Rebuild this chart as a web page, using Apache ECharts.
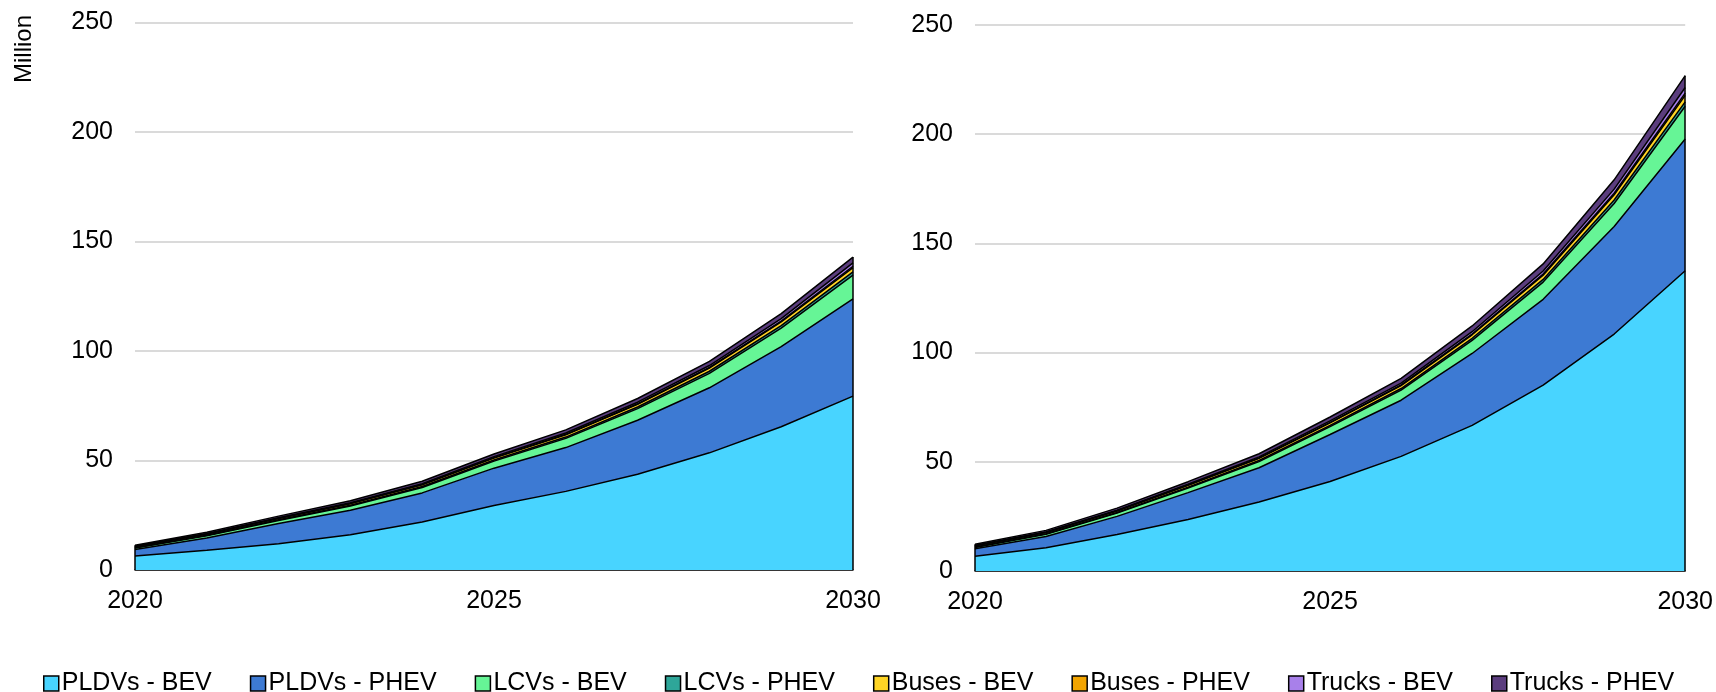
<!DOCTYPE html>
<html>
<head>
<meta charset="utf-8">
<script src="https://cdn.jsdelivr.net/npm/echarts@6/dist/echarts.min.js"></script>
<style>
  html, body { margin: 0; padding: 0; background: #fff; }
  #chart { width: 1716px; height: 692px; }
</style>
</head>
<body>
<div id="chart"></div>
<script>
// Electric vehicle stock by segment and powertrain, millions, 2020-2030
const years = ['2020', '2021', '2022', '2023', '2024', '2025', '2026', '2027', '2028', '2029', '2030'];
const seriesNames = ['PLDVs - BEV', 'PLDVs - PHEV', 'LCVs - BEV', 'LCVs - PHEV',
                     'Buses - BEV', 'Buses - PHEV', 'Trucks - BEV', 'Trucks - PHEV'];
const yTicks = [0, 50, 100, 150, 200, 250];

// Left panel
const leftPldvBev    = [6.4, 9.0, 12.0, 16.1, 21.9, 29.5, 35.9, 43.7, 53.5, 65.4, 79.4];
const leftPldvPhev   = [3.0, 5.6, 9.2, 11.2, 13.3, 17.0, 20.0, 24.7, 29.7, 36.6, 44.4];
const leftLcvBev     = [0.6, 1.0, 1.4, 1.9, 2.5, 3.2, 4.2, 5.3, 6.6, 8.4, 10.8];
const leftLcvPhev    = [0.2, 0.25, 0.3, 0.35, 0.4, 0.5, 0.6, 0.75, 0.95, 1.2, 1.5];
const leftBusBev     = [0.5, 0.55, 0.65, 0.75, 0.85, 0.95, 1.05, 1.2, 1.4, 1.65, 2.0];
const leftBusPhev    = [0.05, 0.06, 0.08, 0.1, 0.13, 0.16, 0.2, 0.25, 0.32, 0.42, 0.6];
const leftTruckBev   = [0.1, 0.14, 0.2, 0.27, 0.35, 0.45, 0.58, 0.72, 0.9, 1.15, 1.5];
const leftTruckPhev  = [0.45, 0.6, 0.77, 0.93, 1.07, 1.24, 1.47, 1.68, 1.93, 2.28, 2.7];

// Right panel
const rightPldvBev   = [6.8, 10.6, 16.7, 23.6, 31.6, 41.0, 52.5, 66.7, 85.1, 108.5, 137.5];
const rightPldvPhev  = [3.4, 5.2, 8.3, 12.3, 15.7, 21.5, 25.7, 32.9, 39.3, 49.2, 60.3];
const rightLcvBev    = [0.6, 1.0, 1.5, 2.1, 2.8, 3.6, 4.6, 6.0, 7.9, 10.6, 15.0];
const rightLcvPhev   = [0.2, 0.25, 0.3, 0.4, 0.5, 0.6, 0.75, 0.95, 1.2, 1.55, 2.0];
const rightBusBev    = [0.5, 0.6, 0.7, 0.85, 1.0, 1.15, 1.35, 1.6, 1.95, 2.4, 3.0];
const rightBusPhev   = [0.05, 0.07, 0.1, 0.13, 0.17, 0.22, 0.28, 0.37, 0.5, 0.7, 1.0];
const rightTruckBev  = [0.1, 0.15, 0.25, 0.35, 0.5, 0.65, 0.85, 1.05, 1.4, 1.9, 2.6];
const rightTruckPhev = [0.55, 0.73, 0.95, 1.17, 1.43, 1.78, 2.17, 2.63, 3.25, 4.25, 5.4];

const palette = ['#48D4FF', '#3D7AD3', '#66F596', '#2EA699', '#FFD525', '#F2A400', '#A880EA', '#5B3D7E'];

const leftSets  = [leftPldvBev, leftPldvPhev, leftLcvBev, leftLcvPhev, leftBusBev, leftBusPhev, leftTruckBev, leftTruckPhev];
const rightSets = [rightPldvBev, rightPldvPhev, rightLcvBev, rightLcvPhev, rightBusBev, rightBusPhev, rightTruckBev, rightTruckPhev];

const FONT = 'Liberation Sans, Arial, sans-serif';

function stackTotal(sets, i) {
  return sets.reduce((s, arr) => s + arr[i], 0);
}

function panelSeries(sets, axisIndex, stackId) {
  const last = years.length - 1;
  return sets.map((vals, k) => {
    const s = {
      name: seriesNames[k],
      type: 'line',
      xAxisIndex: axisIndex,
      yAxisIndex: axisIndex,
      stack: stackId,
      data: vals,
      symbol: 'none',
      showSymbol: false,
      color: palette[k],
      lineStyle: { color: '#000', width: 1.5 },
      areaStyle: { color: palette[k], opacity: 1 },
      emphasis: { disabled: true },
      silent: true
    };
    if (k === sets.length - 1) {
      // outline the two vertical edges of the stacked block
      s.markLine = {
        silent: true,
        symbol: 'none',
        label: { show: false },
        lineStyle: { color: '#000', width: 1.5, type: 'solid' },
        data: [
          [{ coord: [years[0], 0] }, { coord: [years[0], stackTotal(sets, 0)] }],
          [{ coord: [years[last], 0] }, { coord: [years[last], stackTotal(sets, last)] }]
        ]
      };
    }
    return s;
  });
}

function xAxisFor(gridIndex) {
  return {
    type: 'category',
    gridIndex: gridIndex,
    data: years,
    boundaryGap: false,
    axisTick: { show: false },
    axisLine: { show: true, lineStyle: { color: '#000', width: 1.5 } },
    axisLabel: { interval: 4, color: '#000', fontSize: 25, fontFamily: FONT, margin: 19 },
    splitLine: { show: false }
  };
}

function yAxisFor(gridIndex) {
  return {
    type: 'value',
    gridIndex: gridIndex,
    min: yTicks[0],
    max: yTicks[yTicks.length - 1],
    interval: yTicks[1] - yTicks[0],
    axisLine: { show: false },
    axisTick: { show: false },
    axisLabel: { color: '#000', fontSize: 25, fontFamily: FONT, margin: 22 },
    splitLine: { show: true, lineStyle: { color: '#DADADA', width: 2 } }
  };
}

const chart = echarts.init(document.getElementById('chart'), null, { renderer: 'canvas' });

chart.setOption({
  animation: false,
  backgroundColor: '#fff',
  grid: [
    { left: 135, right: 863, top: 22.5, bottom: 122 },
    { left: 975, right: 28, top: 25, bottom: 121 }
  ],
  xAxis: [xAxisFor(0), xAxisFor(1)],
  yAxis: [yAxisFor(0), yAxisFor(1)],
  legend: {
    data: seriesNames,
    left: 38,
    top: 666,
    icon: 'rect',
    itemWidth: 15,
    itemHeight: 15,
    itemGap: 38,
    itemStyle: { borderColor: '#000', borderWidth: 1.5 },
    textStyle: { color: '#000', fontSize: 25, fontFamily: FONT, padding: [0, 0, 0, -2] },
    selectedMode: false
  },
  graphic: [{
    type: 'text',
    x: 24,
    y: 49,
    rotation: Math.PI / 2,
    style: {
      text: 'Million',
      fill: '#000',
      fontSize: 24,
      fontFamily: FONT,
      align: 'center',
      verticalAlign: 'middle'
    }
  }],
  series: [].concat(panelSeries(leftSets, 0, 'left'), panelSeries(rightSets, 1, 'right'))
});
</script>
</body>
</html>
